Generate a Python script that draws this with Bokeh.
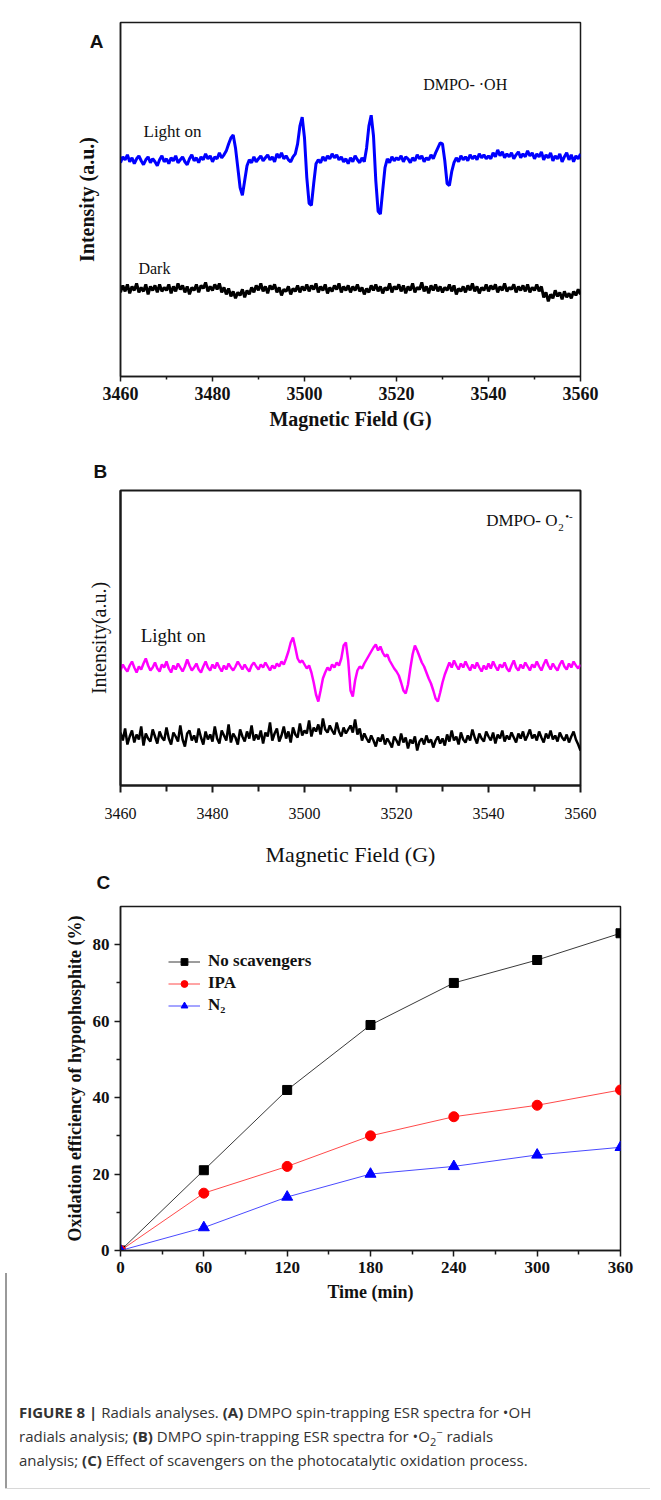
from bokeh.plotting import figure
from bokeh.layouts import column
from bokeh.models import Range1d, Label, Legend, LegendItem, FixedTicker, Div, Title
from bokeh.embed import file_html
from bokeh.resources import INLINE

SERIF = "Liberation Serif"
SANS = "Liberation Sans"

# ---------------- data ----------------
FIELD_G = [3460 + 0.5 * i for i in range(201)]

A_LIGHT_ON = [
    243, 249, 246, 251, 244, 248, 242, 247, 250, 245, 241, 246, 249, 243, 247, 244, 240, 246, 250, 244,
    247, 242, 248, 245, 250, 243, 246, 249, 244, 241, 247, 251, 245, 248, 243, 249, 246, 252, 247, 250,
    244, 249, 247, 253, 248, 251, 255, 262, 268, 271, 258, 238, 218, 210, 225, 240, 246, 243, 249, 244,
    247, 250, 245, 248, 251, 246, 249, 244, 252, 248, 253, 247, 250, 246, 244, 249, 252, 262, 280, 289,
    268, 228, 202, 200, 222, 242, 246, 243, 249, 245, 250, 247, 252, 248, 251, 246, 249, 244, 247, 242,
    248, 244, 250, 246, 243, 248, 244, 258, 280, 291, 270, 225, 194, 191, 215, 238, 247, 243, 249, 245,
    248, 246, 250, 244, 249, 247, 243, 248, 245, 251, 247, 250, 244, 248, 246, 251, 247, 253, 258, 263,
    262, 245, 222, 220, 234, 243, 248, 244, 250, 246, 249, 245, 251, 247, 250, 246, 252, 248, 251, 247,
    250, 247, 253, 249, 256, 250, 254, 248, 252, 249, 253, 247, 251, 254, 248, 252, 249, 255, 250, 253,
    247, 252, 249, 254, 246, 251, 248, 253, 245, 250, 247, 252, 244, 249, 253, 246, 251, 244, 250, 247,
    252]

A_DARK = [
    112, 119, 113, 120, 111, 118, 114, 121, 112, 117, 113, 120, 110, 118, 114, 119, 112, 120, 113, 117,
    114, 120, 111, 118, 113, 121, 115, 119, 112, 118, 110, 117, 114, 120, 112, 119, 116, 122, 113, 118,
    114, 120, 115, 121, 112, 117, 110, 116, 108, 113, 106, 112, 109, 115, 107, 114, 110, 117, 112, 119,
    114, 121, 113, 118, 111, 119, 115, 120, 112, 117, 109, 115, 113, 118, 110, 116, 113, 119, 112, 118,
    114, 120, 113, 119, 115, 121, 112, 118, 114, 120, 111, 117, 113, 119, 115, 121, 112, 118, 114, 119,
    112, 118, 114, 120, 113, 117, 110, 116, 112, 119, 114, 120, 113, 118, 111, 117, 114, 121, 112, 118,
    115, 120, 113, 119, 111, 118, 114, 121, 112, 117, 115, 122, 113, 118, 111, 119, 114, 120, 113, 118,
    112, 117, 114, 120, 113, 119, 110, 116, 113, 118, 112, 119, 114, 121, 113, 118, 111, 117, 114, 120,
    113, 119, 115, 120, 112, 118, 114, 121, 113, 117, 115, 120, 112, 118, 114, 119, 113, 120, 112, 117,
    114, 120, 113, 118, 107, 112, 103, 110, 106, 114, 108, 112, 105, 113, 107, 111, 106, 113, 109, 115,
    110]

B_LIGHT_ON = [
    210, 216, 212, 209, 215, 219, 213, 208, 214, 211, 217, 222, 215, 210, 213, 218, 212, 209, 216, 213,
    219, 212, 208, 215, 211, 217, 213, 209, 214, 221, 215, 210, 213, 217, 211, 208, 214, 219, 213, 210,
    216, 212, 218, 213, 209, 215, 211, 217, 213, 210, 214, 219, 215, 211, 216, 212, 209, 215, 218, 214,
    211, 216, 213, 218, 214, 210, 215, 212, 217, 214, 219, 216, 222, 229, 238, 243, 233, 222, 218, 220,
    216, 212, 215, 208, 198, 186, 179, 190, 202, 208, 213, 210, 216, 213, 218, 215, 222, 235, 238, 220,
    190, 184, 200, 210, 214, 212, 217, 221, 225, 229, 233, 236, 230, 234, 228, 224, 226, 220, 216, 212,
    209, 205, 198, 190, 187, 196, 212, 226, 235, 230, 224, 218, 214, 208, 202, 197, 190, 182, 179, 188,
    198, 206, 212, 218, 213, 220, 215, 211, 217, 213, 219, 214, 210, 216, 212, 218, 213, 209, 215, 211,
    217, 212, 219, 214, 210, 216, 213, 218, 212, 209, 215, 220, 213, 210, 216, 212, 218, 214, 210, 216,
    213, 219, 214, 210, 216, 221, 215, 211, 217, 213, 210, 216, 220, 214, 211, 217, 213, 219, 215, 212,
    216]

B_DARK = [
    148, 140, 152, 136, 144, 150, 138, 146, 141, 154, 135, 147, 142, 139, 151, 144, 137, 149, 143, 140,
    153, 142, 136, 148, 144, 139, 155, 141, 134, 147, 150, 140, 145, 138, 152, 143, 136, 149, 141, 146,
    139, 154, 142, 137, 150, 145, 140, 156, 138, 147, 143, 136, 151, 144, 139, 149, 142, 155, 140, 146,
    141, 150, 137, 148, 144, 158, 140, 147, 152, 139, 145, 154, 142, 149, 138, 153, 146, 143, 157, 145,
    150, 147, 160, 144, 153, 149, 156, 146, 162, 151, 148, 155, 150, 146, 158, 149, 144, 153, 147, 151,
    155, 148, 161, 146, 152, 140, 147, 142, 138, 145, 140, 134, 143, 139, 146, 136, 142, 138, 133, 144,
    140, 135, 147, 138, 143, 132, 141, 137, 144, 130, 139, 142, 136, 145, 138, 141, 133, 140, 144, 137,
    142, 135, 146, 139, 150, 140, 144, 136, 148, 141, 138, 145, 140, 151, 143, 137, 147, 142, 139, 149,
    144, 140, 148, 137, 146, 142, 150, 139, 145, 141, 148, 143, 138, 147, 142, 149, 140, 145, 151, 142,
    146, 140, 149, 143, 138, 147, 142, 150, 141, 145, 139, 148, 143, 140, 146, 138, 144, 149, 141, 136,
    130]

FIELD_TICKS = [3460, 3480, 3500, 3520, 3540, 3560]
FIELD_MINOR = [3470, 3490, 3510, 3530, 3550]

TIME_MIN = [0, 60, 120, 180, 240, 300, 360]
NO_SCAVENGERS = [0, 21, 42, 59, 70, 76, 83]
IPA = [0, 15, 22, 30, 35, 38, 42]
N2 = [0, 6, 14, 20, 22, 25, 27]
TIME_TICKS = [0, 60, 120, 180, 240, 300, 360]
TIME_MINOR = [30, 90, 150, 210, 270, 330]
EFF_TICKS = [0, 20, 40, 60, 80]
EFF_MINOR = [10, 30, 50, 70]

INK = "#111111"
LEFT = 120     # common left border (the column aligns plot frames)
RIGHT = 25     # common right border


def style_frame(p, lw=1.5):
    p.outline_line_color = "#1a1a1a"
    p.outline_line_width = lw
    p.outline_line_alpha = 1
    p.xgrid.visible = False
    p.ygrid.visible = False
    for ax in (p.xaxis, p.yaxis):
        ax.axis_line_color = "#1a1a1a"
        ax.axis_line_width = lw
        ax.major_tick_line_color = "#1a1a1a"
        ax.minor_tick_line_color = "#1a1a1a"
        ax.major_tick_line_width = lw
        ax.minor_tick_line_width = lw
        ax.major_tick_in = 0
        ax.minor_tick_in = 0
        ax.major_label_text_color = INK
        ax.axis_label_text_color = INK
        ax.major_label_text_font = SERIF
        ax.axis_label_text_font = SERIF


def data_label(p, txt, x, y, size, **kw):
    p.add_layout(Label(x=x, y=y, text=txt, text_font=SERIF, text_font_size=size,
                       text_color=INK, text_baseline="middle", text_align="left", **kw))


def letter_title(txt, offset, standoff):
    return Title(text=txt, align="left", offset=offset, standoff=standoff,
                 text_font=SANS, text_font_style="bold", text_font_size="19px",
                 text_color=INK, vertical_align="bottom")


# ---------------- panel A ----------------
pa = figure(width=605, height=447, output_backend="svg", toolbar_location=None,
            x_range=Range1d(3460, 3560), y_range=Range1d(27, 384.7),
            min_border_left=LEFT, min_border_right=RIGHT, min_border_top=22, min_border_bottom=71)
style_frame(pa, 1.5)
pa.line(FIELD_G, A_LIGHT_ON, line_color="#0000ff", line_width=3)
pa.line(FIELD_G, A_DARK, line_color="#000000", line_width=3)
pa.xaxis.ticker = FixedTicker(ticks=FIELD_TICKS, minor_ticks=FIELD_MINOR)
pa.xaxis.major_tick_out = 5
pa.xaxis.minor_tick_out = 3
pa.xaxis.major_label_text_font_size = "18px"
pa.xaxis.major_label_text_font_style = "bold"
pa.xaxis.major_label_standoff = 5
pa.xaxis.axis_label = "Magnetic Field (G)"
pa.xaxis.axis_label_text_font_size = "20px"
pa.xaxis.axis_label_text_font_style = "bold"
pa.xaxis.axis_label_standoff = 5
# panel letter "A" carried by the left axis (single tick near the top)
pa.yaxis.ticker = FixedTicker(ticks=[366], minor_ticks=[])
pa.yaxis.major_label_overrides = {366: "A"}
pa.yaxis.major_tick_out = 0
pa.yaxis.major_tick_line_color = None
pa.yaxis.minor_tick_out = 0
pa.yaxis.major_label_text_font = SANS
pa.yaxis.major_label_text_font_style = "bold"
pa.yaxis.major_label_text_font_size = "19px"
pa.yaxis.major_label_standoff = 17
pa.yaxis.axis_label = "Intensity (a.u.)"
pa.yaxis.axis_label_text_font_size = "20px"
pa.yaxis.axis_label_text_font_style = "bold"
pa.yaxis.axis_label_standoff = -11
data_label(pa, "Light on", 3465, 275, "17px")
data_label(pa, "DMPO- ·OH", 3525.8, 322, "16px")
data_label(pa, "Dark", 3463.9, 136, "16px")

# ---------------- panel B ----------------
pb = figure(width=605, height=446, output_backend="svg", toolbar_location=None,
            x_range=Range1d(3460, 3560), y_range=Range1d(95, 390),
            min_border_left=LEFT, min_border_right=RIGHT, min_border_top=43, min_border_bottom=108)
style_frame(pb, 2)
pb.line(FIELD_G, B_LIGHT_ON, line_color="#ff00ff", line_width=2.5)
pb.line(FIELD_G, B_DARK, line_color="#000000", line_width=2.5)
pb.xaxis.ticker = FixedTicker(ticks=FIELD_TICKS, minor_ticks=FIELD_MINOR)
pb.xaxis.major_tick_out = 7
pb.xaxis.minor_tick_out = 6
pb.xaxis.major_label_text_font_size = "16px"
pb.xaxis.major_label_standoff = 15
pb.xaxis.axis_label = "Magnetic Field (G)"
pb.xaxis.axis_label_text_font_size = "22px"
pb.xaxis.axis_label_text_font_style = "normal"
pb.xaxis.axis_label_standoff = 20
pb.yaxis.ticker = FixedTicker(ticks=[])
pb.yaxis.major_tick_out = 0
pb.yaxis.minor_tick_out = 0
pb.yaxis.axis_label = "Intensity(a.u.)"
pb.yaxis.axis_label_text_font_size = "20px"
pb.yaxis.axis_label_text_font_style = "normal"
pb.yaxis.axis_label_standoff = 11
data_label(pb, "Light on", 3464.4, 245, "19px")
data_label(pb, "DMPO- O", 3539.5, 360, "17px")
data_label(pb, "2", 3539.5, 360, "11px", x_offset=72, y_offset=-7)
data_label(pb, "•-", 3539.5, 360, "11px", x_offset=79, y_offset=5)
pb.add_layout(letter_title("B", -27, 18), "above")
pb.add_layout(letter_title("C", -24, 0), "below")

# ---------------- panel C ----------------
pc = figure(width=645, height=494, output_backend="svg", toolbar_location=None,
            x_range=Range1d(0, 360), y_range=Range1d(0, 90),
            min_border_left=LEFT, min_border_right=RIGHT, min_border_top=13, min_border_bottom=137)
style_frame(pc, 1.5)
l1 = pc.line(TIME_MIN, NO_SCAVENGERS, line_color="#3a3a3a", line_width=1)
s1 = pc.scatter(TIME_MIN, NO_SCAVENGERS, marker="square", size=9, color="#000000")
l2 = pc.line(TIME_MIN, IPA, line_color="#ff4a4a", line_width=1)
s2 = pc.scatter(TIME_MIN, IPA, marker="circle", size=10, color="#ff0000")
l3 = pc.line(TIME_MIN, N2, line_color="#4a4aff", line_width=1)
s3 = pc.scatter(TIME_MIN, N2, marker="triangle", size=11, color="#0000ff")
pc.xaxis.ticker = FixedTicker(ticks=TIME_TICKS, minor_ticks=TIME_MINOR)
pc.yaxis.ticker = FixedTicker(ticks=EFF_TICKS, minor_ticks=EFF_MINOR)
for ax in (pc.xaxis, pc.yaxis):
    ax.major_tick_out = 6
    ax.minor_tick_out = 4
    ax.major_label_text_font_size = "17px"
    ax.major_label_text_font_style = "bold"
    ax.major_label_standoff = 5
    ax.axis_label_text_font_size = "18px"
    ax.axis_label_text_font_style = "bold"
pc.xaxis.axis_label = "Time (min)"
pc.xaxis.axis_label_standoff = 6
pc.yaxis.axis_label = "Oxidation efficiency of hypophosphite (%)"
pc.yaxis.axis_label_standoff = 5
legend = Legend(items=[LegendItem(label="No scavengers", renderers=[l1, s1]),
                       LegendItem(label="IPA", renderers=[l2, s2]),
                       LegendItem(label="N₂", renderers=[l3, s3])],
                location=(48, 235), glyph_width=32, glyph_height=17, label_height=17,
                spacing=2, padding=0, margin=0, label_standoff=8,
                border_line_color=None, background_fill_alpha=0,
                label_text_font=SERIF, label_text_font_style="bold",
                label_text_font_size="17px", label_text_color=INK)
pc.add_layout(legend)

# ---------------- caption ----------------
caption_html = (
    '<div style="position:relative;width:645px;height:97px;">'
    '<div style="position:absolute;left:0;top:-119px;width:2px;height:216px;background:#9a9a9a;"></div>'
    '<div style="position:absolute;left:0;top:0;width:645px;height:97px;box-sizing:border-box;'
    'border-bottom:1px solid #d8d8d8;padding:8px 0 0 14px;font-family:\'Open Sans\';font-size:15px;'
    'line-height:24px;color:#333333;white-space:nowrap;">'
    '<b>FIGURE 8 |</b> Radials analyses. <b>(A)</b> DMPO spin-trapping ESR spectra for •OH<br>'
    'radials analysis; <b>(B)</b> DMPO spin-trapping ESR spectra for •O'
    '<sub style="font-size:11px;line-height:0">2</sub><sup style="font-size:11px;line-height:0">−</sup> radials<br>'
    'analysis; <b>(C)</b> Effect of scavengers on the photocatalytic oxidation process.'
    '</div></div>'
)
cap = Div(text=caption_html, width=645, height=97, styles={"overflow": "visible"})

layout = column(pa, pb, pc, cap, spacing=0)
open("out.html", "w").write(file_html(layout, INLINE))
